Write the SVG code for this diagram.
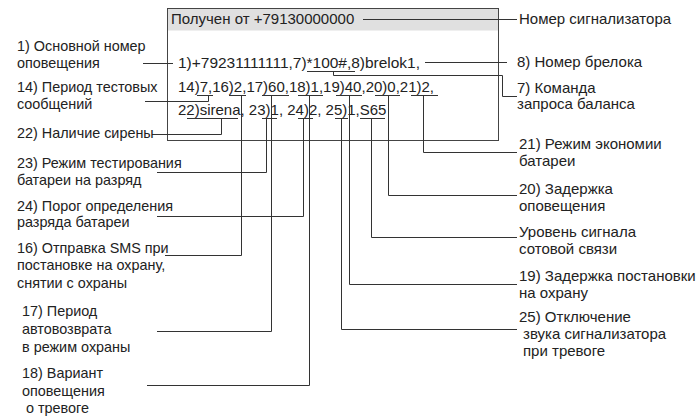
<svg xmlns="http://www.w3.org/2000/svg" width="698" height="416" viewBox="0 0 698 416">
<style>
text{font-family:"Liberation Sans",Arial,sans-serif;font-size:15px;fill:#222}
.l text{font-size:14.4px}
.c{fill:none;stroke:#333;stroke-width:1}
</style>
<rect width="698" height="416" fill="#fff"/>
<g id="message">
<rect x="167.5" y="8.5" width="331" height="22" fill="#e0e0e0"/>
<rect x="167.5" y="8.5" width="331" height="132" fill="none" stroke="#444"/>
<text x="171" y="24">Получен от +79130000000</text>
<text x="178" y="68" textLength="242" lengthAdjust="spacingAndGlyphs">1)+79231111111,7)*100#,8)brelok1,</text>
<text x="178" y="92">14)7,16)2,17)60,18)1,19)40,20)0,21)2,</text>
<text x="178" y="115">22)sirena, 23)1, 24)2, 25)1,S65</text>
</g>
<g id="connectors">
<path class="c" d="M363,19.5H517"/>
<path class="c" d="M143,63.5H173"/>
<path class="c" d="M425,62.5H507"/>
<path class="c" d="M307,71.5H355M333.5,71.5V75.5H502.5V96.5H517"/>
<path class="c" d="M197,95.5H213M208.5,95.5V101.5H145"/>
<path class="c" d="M229,95.5H246M241.5,95.5V255.5H165"/>
<path class="c" d="M262,95.5H289M271.5,95.5V331.5H157"/>
<path class="c" d="M298,95.5H323M309.5,95.5V385.5H147"/>
<path class="c" d="M336,95.5H362M349.5,95.5V284.5H517"/>
<path class="c" d="M375,95.5H400M388.5,95.5V195.5H517"/>
<path class="c" d="M411,95.5H438M423.5,95.5V152.5H517"/>
<path class="c" d="M187,118.5H238M221.5,118.5V134.5H152"/>
<path class="c" d="M262,118.5H277M266.5,118.5V172.5H157"/>
<path class="c" d="M298,118.5H313M303.5,118.5V216.5H157"/>
<path class="c" d="M335,118.5H348M341.5,118.5V329.5H517"/>
<path class="c" d="M360,118.5H385M371.5,118.5V237.5H517"/>
</g>
<g class="l">
<g id="label-1"><text x="17" y="51">1) Основной номер</text><text x="17" y="68">оповещения</text></g>
<g id="label-14"><text x="17" y="92">14) Период тестовых</text><text x="17" y="109">сообщений</text></g>
<g id="label-22"><text x="17" y="138">22) Наличие сирены</text></g>
<g id="label-23"><text x="17" y="168">23) Режим тестирования</text><text x="17" y="185">батареи на разряд</text></g>
<g id="label-24"><text x="17" y="211">24) Порог определения</text><text x="17" y="227">разряда батареи</text></g>
<g id="label-16"><text x="17" y="253">16) Отправка SMS при</text><text x="17" y="270">постановке на охрану,</text><text x="17" y="288">снятии с охраны</text></g>
<g id="label-17"><text x="22" y="316">17) Период</text><text x="22" y="334">автовозврата</text><text x="22" y="352">в режим охраны</text></g>
<g id="label-18"><text x="22" y="378">18) Вариант</text><text x="22" y="396">оповещения</text><text x="26" y="413">о тревоге</text></g>
</g>
<g id="label-num"><text x="519" y="24">Номер сигнализатора</text></g>
<g id="label-8"><text x="517" y="67">8) Номер брелока</text></g>
<g id="label-7"><text x="517" y="93">7) Команда</text><text x="517" y="109">запроса баланса</text></g>
<g id="label-21"><text x="519" y="149">21) Режим экономии</text><text x="519" y="166">батареи</text></g>
<g id="label-20"><text x="519" y="194">20) Задержка</text><text x="519" y="211">оповещения</text></g>
<g id="label-signal"><text x="519" y="237">Уровень сигнала</text><text x="519" y="254">сотовой связи</text></g>
<g id="label-19"><text x="519" y="281">19) Задержка постановки</text><text x="519" y="298">на охрану</text></g>
<g id="label-25"><text x="519" y="322">25) Отключение</text><text x="523" y="339">звука сигнализатора</text><text x="523" y="356">при тревоге</text></g>
</svg>
